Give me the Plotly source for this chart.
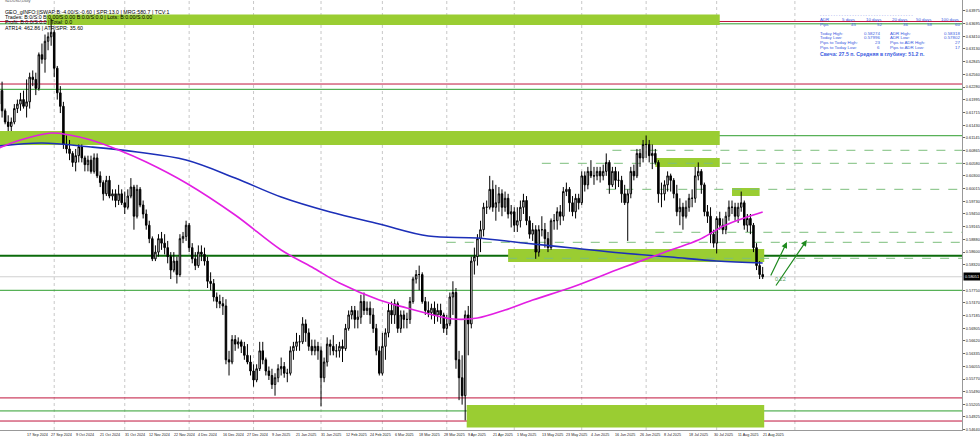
import plotly.graph_objects as go
import pandas as pd

# ---------------- data ----------------
# daily bars, 5 Sep 2024 .. 22 Aug 2025 (no 25 Dec / 1 Jan bars)
dates = [d for d in pd.bdate_range("2024-09-05", "2025-08-22")
         if d.strftime("%m-%d") not in ("12-25", "01-01")]

opens = [
 .6190,.6220,.6175,.6150,.6140,.6150,.6180,.6190,.6200,.6185,.6195,.6250,.6245,.6225,.6300,.6290,.6330,.6340,
 .6350,.6270,.6215,.6185,.6100,.6090,.6080,.6060,.6075,.6095,.6070,.6055,.6065,.6040,.6070,.6030,.6015,.5990,.6020,.5985,.5990,.5975,.5990,
 .5970,.5960,.5985,.6005,.5940,.6000,.5965,.5945,.5920,.5890,.5845,.5860,.5890,.5880,.5870,.5850,.5820,.5840,.5810,.5890,.5895,
 .5920,.5870,.5845,.5830,.5860,.5855,.5840,.5795,.5790,.5760,.5750,.5745,.5740,.5620,.5615,.5665,.5655,.5660,.5650,.5630,.5615,
 .5595,.5575,.5600,.5640,.5620,.5595,.5585,.5565,.5580,.5600,.5605,.5590,.5590,.5640,.5650,.5660,.5660,.5700,.5680,.5650,.5640,.5650,
 .5640,.5580,.5615,.5655,.5650,.5640,.5640,.5650,.5645,.5690,.5720,.5730,.5710,.5715,.5750,.5730,.5735,.5720,.5690,.5640,
 .5590,.5650,.5680,.5730,.5720,.5745,.5690,.5720,.5710,.5710,.5750,.5800,.5810,.5810,.5750,.5730,.5725,.5735,.5720,.5730,.5720,
 .5690,.5700,.5760,.5770,.5620,.5580,.5540,.5720,.5700,.5840,.5850,.5890,.5910,.5960,.5960,.6000,.5960,.5970,.5990,.5960,.5980,.5945,
 .5950,.5920,.5930,.5960,.5975,.5930,.5900,.5910,.5860,.5910,.5910,.5890,.5870,.5930,.5930,.5950,.5940,.5995,.6000,.5970,.5950,.5980,
 .5970,.6030,.6010,.6040,.6030,.6030,.6040,.6030,.6040,.6060,.6010,.6040,.6020,.6020,.5990,.5970,.5990,.6040,.6030,.6080,.6070,
 .6100,.6100,.6075,.6080,.6060,.5990,.5990,.6010,.6030,.6020,.5990,.5950,.5960,.5940,.5960,.5980,.5980,.6030,.6040,.6010,.5950,.5940,.5900,
 .5880,.5935,.5920,.5910,.5940,.5960,.5960,.5940,.5960,.5970,.5920,.5935,.5920,.5870,.5830,.5810]
highs = [
 .6230,.6240,.6180,.6165,.6160,.6190,.6200,.6215,.6220,.6245,.6260,.6265,.6260,.6305,.6325,.6345,.6350,.6380,
 .6355,.6275,.6230,.6195,.6120,.6110,.6085,.6090,.6100,.6100,.6075,.6075,.6075,.6080,.6080,.6040,.6020,.6030,.6030,.6000,.6000,.6010,.6000,
 .5995,.6000,.6025,.6010,.6010,.6005,.5975,.5955,.5930,.5895,.5875,.5900,.5905,.5900,.5885,.5860,.5860,.5850,.5900,.5905,.5930,
 .5925,.5880,.5860,.5875,.5875,.5870,.5850,.5815,.5800,.5770,.5765,.5760,.5755,.5640,.5675,.5675,.5670,.5665,.5660,.5655,.5630,
 .5610,.5610,.5660,.5660,.5625,.5605,.5600,.5590,.5610,.5625,.5615,.5600,.5650,.5660,.5680,.5675,.5715,.5710,.5690,.5665,.5665,.5660,
 .5650,.5625,.5670,.5665,.5675,.5655,.5660,.5665,.5700,.5730,.5740,.5740,.5730,.5765,.5770,.5750,.5750,.5735,.5700,.5650,
 .5680,.5690,.5745,.5750,.5755,.5750,.5730,.5730,.5725,.5760,.5805,.5820,.5830,.5815,.5760,.5750,.5745,.5750,.5745,.5745,.5725,
 .5720,.5770,.5795,.5780,.5640,.5630,.5730,.5740,.5850,.5870,.5900,.5930,.5970,.5975,.6030,.6020,.6010,.6005,.6000,.5995,.5990,.5965,
 .5960,.5960,.5975,.5990,.5985,.5940,.5925,.5920,.5920,.5940,.5925,.5905,.5935,.5945,.5960,.5965,.6005,.6015,.6005,.5985,.5990,.5990,
 .6040,.6040,.6050,.6065,.6050,.6050,.6050,.6055,.6080,.6065,.6050,.6050,.6040,.6030,.6010,.6000,.6050,.6055,.6090,.6090,.6110,
 .6120,.6110,.6100,.6090,.6065,.6015,.6020,.6040,.6035,.6025,.6010,.5980,.5970,.5975,.5990,.6000,.6050,.6060,.6045,.6015,.5965,.5960,.5910,
 .5940,.5950,.5935,.5950,.5975,.5975,.5970,.5970,.5995,.5975,.5945,.5945,.5925,.5880,.5840,.5827]
lows = [
 .6180,.6160,.6145,.6130,.6130,.6145,.6170,.6175,.6180,.6160,.6180,.6230,.6210,.6220,.6280,.6260,.6310,.6320,
 .6250,.6200,.6170,.6090,.6080,.6065,.6050,.6040,.6060,.6060,.6040,.6040,.6035,.6035,.6025,.6005,.5975,.5985,.5980,.5975,.5960,.5965,.5965,
 .5945,.5955,.5980,.5910,.5935,.5960,.5935,.5910,.5880,.5840,.5840,.5850,.5865,.5855,.5835,.5800,.5815,.5790,.5805,.5880,.5885,
 .5860,.5835,.5820,.5825,.5840,.5830,.5780,.5775,.5750,.5735,.5735,.5720,.5610,.5585,.5610,.5640,.5645,.5635,.5620,.5610,.5585,
 .5560,.5570,.5595,.5610,.5585,.5575,.5555,.5540,.5570,.5585,.5580,.5570,.5585,.5620,.5640,.5640,.5655,.5660,.5640,.5630,.5630,.5620,
 .5516,.5570,.5605,.5630,.5630,.5625,.5625,.5615,.5640,.5685,.5710,.5690,.5690,.5700,.5720,.5720,.5700,.5680,.5630,.5585,
 .5585,.5620,.5670,.5700,.5700,.5680,.5680,.5690,.5690,.5700,.5745,.5790,.5775,.5745,.5720,.5715,.5710,.5700,.5705,.5700,.5680,
 .5675,.5695,.5720,.5600,.5530,.5520,.5485,.5630,.5690,.5810,.5830,.5860,.5895,.5945,.5955,.5950,.5930,.5950,.5940,.5950,.5935,.5915,
 .5905,.5905,.5915,.5945,.5920,.5890,.5885,.5845,.5850,.5895,.5870,.5860,.5865,.5910,.5910,.5920,.5930,.5985,.5950,.5940,.5935,.5955,
 .5965,.5995,.6000,.6025,.6010,.6020,.6015,.6020,.6030,.5990,.6005,.6000,.6005,.5970,.5965,.5885,.5980,.6020,.6025,.6050,.6060,
 .6070,.6060,.6045,.6055,.5970,.5960,.5975,.5995,.5995,.5980,.5940,.5920,.5910,.5935,.5950,.5960,.5970,.6020,.5990,.5940,.5925,.5880,.5870,
 .5857,.5910,.5900,.5900,.5930,.5945,.5930,.5925,.5950,.5910,.5905,.5900,.5860,.5820,.5800,.5800]
closes = [
 .6220,.6175,.6150,.6140,.6150,.6180,.6190,.6200,.6185,.6195,.6250,.6245,.6225,.6300,.6290,.6330,.6340,.6350,
 .6270,.6215,.6185,.6100,.6090,.6080,.6060,.6075,.6095,.6070,.6055,.6065,.6040,.6070,.6030,.6015,.5990,.6020,.5985,.5990,.5975,.5990,.5970,
 .5960,.5985,.6005,.5940,.6000,.5965,.5945,.5920,.5890,.5845,.5860,.5890,.5880,.5870,.5850,.5820,.5840,.5810,.5890,.5895,.5920,
 .5870,.5845,.5830,.5860,.5855,.5840,.5795,.5790,.5760,.5750,.5745,.5740,.5620,.5615,.5665,.5655,.5660,.5650,.5630,.5615,.5595,
 .5575,.5600,.5640,.5620,.5595,.5585,.5565,.5580,.5600,.5605,.5590,.5590,.5640,.5650,.5660,.5660,.5700,.5680,.5650,.5640,.5650,.5640,
 .5580,.5615,.5655,.5650,.5640,.5640,.5650,.5645,.5690,.5720,.5730,.5710,.5715,.5750,.5730,.5735,.5720,.5690,.5640,.5590,
 .5650,.5680,.5730,.5720,.5745,.5690,.5720,.5710,.5710,.5750,.5800,.5810,.5810,.5750,.5730,.5725,.5735,.5720,.5730,.5720,.5690,
 .5700,.5760,.5770,.5620,.5580,.5540,.5720,.5700,.5840,.5850,.5890,.5910,.5960,.5960,.6000,.5960,.5970,.5990,.5960,.5980,.5945,.5950,
 .5920,.5930,.5960,.5975,.5930,.5900,.5910,.5860,.5910,.5910,.5890,.5870,.5930,.5930,.5950,.5940,.5995,.6000,.5970,.5950,.5980,.5970,
 .6030,.6010,.6040,.6030,.6030,.6040,.6030,.6040,.6060,.6010,.6040,.6020,.6020,.5990,.5970,.5990,.6040,.6030,.6080,.6070,.6100,
 .6100,.6075,.6080,.6060,.5990,.5990,.6010,.6030,.6020,.5990,.5950,.5960,.5940,.5960,.5980,.5980,.6030,.6040,.6010,.5950,.5940,.5900,.5880,
 .5935,.5920,.5910,.5940,.5960,.5960,.5940,.5960,.5970,.5920,.5935,.5920,.5870,.5830,.5810,.5805]

# moving averages (bar index, price)
ma_blue_bars = [0, 14, 30, 45, 61, 77, 92, 108, 124, 140, 156, 171, 187, 203, 219, 234, 249]
ma_blue_vals = [0.60965, 0.61032, 0.60943, 0.60832, 0.60653, 0.60252, 0.59828, 0.59494, 0.59227,
                0.58959, 0.58915, 0.58803, 0.58692, 0.58580, 0.58491, 0.58402, 0.58357]
ma_mag_bars = [0, 7, 17, 23, 30, 39, 48, 61, 77, 92, 102, 111, 124, 133, 143, 148, 156, 165, 174,
               187, 203, 219, 228, 237, 249]
ma_mag_vals = [0.60921, 0.61099, 0.61255, 0.61211, 0.61099, 0.60876, 0.60609, 0.60141, 0.59427,
               0.58647, 0.58268, 0.57911, 0.57532, 0.57354, 0.57176, 0.57109, 0.57131, 0.57309,
               0.57532, 0.57822, 0.58246, 0.58647, 0.58870, 0.59204, 0.59494]

# price-axis labels
price_labels = ["0.63975", "0.63695", "0.63410", "0.63130", "0.62845", "0.62560", "0.62280",
                "0.61995", "0.61715", "0.61430", "0.61145", "0.60865", "0.60580", "0.60300",
                "0.60015", "0.59730", "0.59450", "0.59165", "0.58880", "0.58600", "0.58320",
                "0.57750", "0.57470", "0.57185", "0.56905", "0.56620", "0.56335", "0.56055",
                "0.55770", "0.55490", "0.55205", "0.54925", "0.54640"]
current_price = "0.58051"

# time-axis labels
date_labels = ["5 Sep 2024", "17 Sep 2024", "27 Sep 2024", "9 Oct 2024", "21 Oct 2024", "31 Oct 2024",
               "12 Nov 2024", "22 Nov 2024", "4 Dec 2024", "16 Dec 2024", "27 Dec 2024", "9 Jan 2025",
               "21 Jan 2025", "31 Jan 2025", "12 Feb 2025", "24 Feb 2025", "6 Mar 2025", "18 Mar 2025",
               "28 Mar 2025", "9 Apr 2025", "21 Apr 2025", "1 May 2025", "13 May 2025", "23 May 2025",
               "4 Jun 2025", "16 Jun 2025", "26 Jun 2025", "8 Jul 2025", "18 Jul 2025", "30 Jul 2025",
               "11 Aug 2025", "21 Aug 2025"]

# zones (bar start, bar end, low price, high price)
zone_x0 = [15.5, 0.3, 214.0, 239.0, 166.0, 152.5]
zone_x1 = [235.0, 235.0, 235.0, 248.0, 249.5, 249.5]
zone_lo = [0.63663, 0.60988, 0.60497, 0.59851, 0.58379, 0.54690]
zone_hi = [0.63895, 0.61300, 0.60698, 0.60029, 0.58669, 0.55190]

# horizontal levels
solid_levels = [0.63741, 0.63689, 0.62347, 0.62229, 0.61195, 0.58520, 0.57749, 0.55350, 0.55060, 0.54835]
solid_colors = ["#c0143c", "#2e9e2e", "#c0143c", "#2e9e2e", "#2e9e2e", "#0b6b0b", "#2e9e2e",
                "#c0143c", "#2e9e2e", "#c0143c"]
dash_levels = [0.60870, 0.60580, 0.60000, 0.59042, 0.58819, 0.58462]
dash_start = [200, 177, 198, 214, 146, 166]

# projection arrows (from bar, from price, to bar, to price)
arrow_from_bar = [251.4, 253.0]
arrow_from_px = [0.58045, 0.57822]
arrow_to_bar = [256.9, 263.4]
arrow_to_px = [0.58825, 0.58870]

# ---------------- figure ----------------
N = len(closes)
idx = list(range(N))
X0, X1 = 0.326, 313.99
Y0, Y1 = 0.54635, 0.64220
PW, PH = 962, 430

fig = go.Figure()

shapes = []
# month separators (dotted grid)
month_bars = [i for i in range(1, N) if dates[i].month != dates[i - 1].month]
for b in month_bars + [259.5]:
    shapes.append(dict(type="line", xref="x", yref="paper", x0=b, x1=b, y0=0, y1=1,
                       line=dict(color="#c8c8c8", width=1, dash="dot"), layer="below"))
for x0, x1, lo, hi in zip(zone_x0, zone_x1, zone_lo, zone_hi):
    shapes.append(dict(type="rect", xref="x", yref="y", x0=x0, x1=x1, y0=lo, y1=hi,
                       fillcolor="#9acd32", line=dict(width=0), layer="below"))
for lv, b in zip(dash_levels, dash_start):
    shapes.append(dict(type="line", xref="x", yref="y", x0=b, x1=X1, y0=lv, y1=lv,
                       line=dict(color="#7cbf7c", width=1, dash="dash"), layer="below"))
for lv, col in zip(solid_levels, solid_colors):
    w = 2 if col == "#0b6b0b" else 1
    shapes.append(dict(type="line", xref="paper", yref="y", x0=0, x1=1, y0=lv, y1=lv,
                       line=dict(color=col, width=w), layer="below"))
# bid line
shapes.append(dict(type="line", xref="paper", yref="y", x0=0, x1=1, y0=float(current_price),
                   y1=float(current_price), line=dict(color="#d0d0d0", width=1), layer="below"))

fig.add_trace(go.Scatter(x=ma_blue_bars, y=ma_blue_vals, mode="lines", line=dict(color="#1c2fb8", width=1.6, shape="spline"),
                         hoverinfo="skip", showlegend=False))
fig.add_trace(go.Scatter(x=ma_mag_bars, y=ma_mag_vals, mode="lines", line=dict(color="#e21ee2", width=1.6, shape="spline"),
                         hoverinfo="skip", showlegend=False))
fig.add_trace(go.Candlestick(x=idx, open=opens, high=highs, low=lows, close=closes,
                             increasing=dict(line=dict(color="black", width=1), fillcolor="white"),
                             decreasing=dict(line=dict(color="black", width=1), fillcolor="black"),
                             whiskerwidth=0, showlegend=False, hoverinfo="skip"))

ann = []
FONT = "Liberation Sans, Arial, sans-serif"
# date labels
for lab in date_labels:
    d = pd.to_datetime(lab, format="%d %b %Y")
    b = dates.index(d)
    ann.append(dict(x=b, y=0, xref="x", yref="paper", text=lab, showarrow=False, xanchor="left",
                    yanchor="top", xshift=1, yshift=-1, font=dict(size=3.7, color="#222", family=FONT)))
# current price box
ann.append(dict(x=1, y=float(current_price), xref="paper", yref="y", text=current_price, showarrow=False,
                xanchor="left", yanchor="middle", xshift=1, bgcolor="black",
                font=dict(size=3.9, color="white", family=FONT), borderpad=1))

def px(x, y):
    return x / PW, 1 - y / PH

# top-left info
info = [("NZDUSD,Daily", 1.5, 3.8, "#555"),
        ("GEO_gINFO:||SWAP:B:-4.00/S:-0.60 | SPR:13.0 | MRG:580.7 | TCV:1", 11.5, 5.3, "#000"),
        ("Trades: B:0/S:0 B:0.00/S:0.00 B:0.0/S:0.0 | Lots: B:0.00/S:0.00", 17, 5.3, "#000"),
        ("Profit: B:0.0/S:0.0 | Total: 0.0", 22.5, 5.3, "#000"),
        ("ATR14: 462.86 | ATR/SPR: 35.60", 28.5, 5.3, "#000")]
for t, yy, fs, col in info:
    xa, ya = px(3, yy)
    ann.append(dict(x=xa, y=ya, xref="paper", yref="paper", text=t, showarrow=False, xanchor="left",
                    yanchor="middle", font=dict(size=fs, color=col, family=FONT)))

# top-right ADR table
BLUE = "#3a5be0"
tbl_rows = [
    (14.5, [(818, "- - - - - - - - - - - - - - - - - - - - - - - - - - - - - - - - - - -", "left")]),
    (19.5, [(818, "ADR", "left"), (858, "5 days", "right"), (884, "10 days", "right"), (910, "20 days", "right"),
            (934, "50 days", "right"), (962, "100 days", "right")]),
    (24.5, [(818, "Pips", "left"), (858, "45", "right"), (884, "52", "right"), (910, "36", "right"),
            (934, "58", "right"), (962, "60", "right")]),
    (33.5, [(818, "Today High:", "left"), (882, "0.58274", "right"), (888, "ADR High:", "left"), (962, "0.58318", "right")]),
    (38, [(818, "Today Low:", "left"), (882, "0.57996", "right"), (888, "ADR Low:", "left"), (962, "0.57802", "right")]),
    (42.5, [(818, "Pips to Today High:", "left"), (882, "23", "right"), (888, "Pips to ADR High:", "left"), (962, "27", "right")]),
    (47, [(818, "Pips to Today Low:", "left"), (882, "6", "right"), (888, "Pips to ADR Low:", "left"), (962, "17", "right")]),
]
for yy, cells in tbl_rows:
    for xx, t, al in cells:
        xa, ya = px(xx, yy)
        ann.append(dict(x=xa, y=ya, xref="paper", yref="paper", text=t, showarrow=False, xanchor=al,
                        yanchor="middle", font=dict(size=4.4, color=BLUE, family=FONT)))
xa, ya = px(818, 53.5)
ann.append(dict(x=xa, y=ya, xref="paper", yref="paper", text="<b>Свеча: 27.5 п. Средняя в глубину: 51.2 п.</b>",
                showarrow=False, xanchor="left", yanchor="middle", font=dict(size=5.2, color=BLUE, family=FONT)))

# arrows
for fb, fp, tb, tp in zip(arrow_from_bar, arrow_from_px, arrow_to_bar, arrow_to_px):
    ann.append(dict(x=tb, y=tp, ax=fb, ay=fp, xref="x", yref="y", axref="x", ayref="y", text="",
                    showarrow=True, arrowhead=2, arrowsize=1, arrowwidth=1.2, arrowcolor="#1e8a1e"))
ann.append(dict(x=252.5, y=0.5800, xref="x", yref="y", text="0.22", showarrow=False, xanchor="left",
                yanchor="middle", font=dict(size=5.5, color="#5aa05a", family=FONT)))

fig.update_layout(
    width=980, height=439, margin=dict(l=0, r=18, t=0, b=9, autoexpand=False),
    paper_bgcolor="white", plot_bgcolor="white",
    shapes=shapes, annotations=ann, showlegend=False,
    xaxis=dict(range=[X0, X1], showticklabels=False, showgrid=False, zeroline=False, automargin=False,
               showline=True, linecolor="#999", linewidth=1, rangeslider=dict(visible=False),
               fixedrange=True),
    yaxis=dict(range=[Y0, Y1], side="right", tickvals=[float(v) for v in price_labels], ticktext=price_labels,
               tickfont=dict(size=3.9, color="#222", family=FONT), ticks="outside", ticklen=2,
               tickcolor="#666", showgrid=False, zeroline=False, showline=True, linecolor="#999",
               linewidth=1, fixedrange=True, automargin=False),
)

fig.write_html("out.html", config={"displayModeBar": False},
               post_script="document.body.style.margin='0px';document.body.style.overflow='hidden';")
